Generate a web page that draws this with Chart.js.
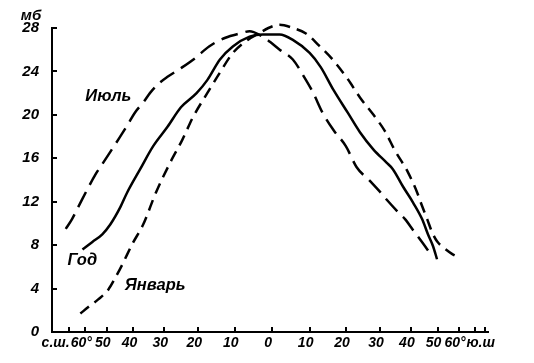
<!DOCTYPE html>
<html>
<head>
<meta charset="utf-8">
<script src="https://cdn.jsdelivr.net/npm/chart.js@4/dist/chart.umd.min.js"></script>
<style>
  html, body { margin: 0; padding: 0; background: #fff; }
  #wrap { width: 534px; height: 363px; }
</style>
</head>
<body>
<div id="wrap"><canvas id="c" width="534" height="363"></canvas></div>
<script>
// ---- Data (latitude: negative = north / с.ш., positive = south / ю.ш.; vapour pressure in мб)
const seriesNames = ['Июль', 'Год', 'Январь'];

const julyLat = [-73, -68, -63, -59, -55, -51.5, -48, -45, -42, -39.5, -36.5, -34.5, -32, -29, -25, -21, -17, -12.5, -8.5, -6, -3, -0.5, 2, 5.5, 8.5, 11, 13.5, 16.5, 20, 23, 27, 30, 32, 35.5, 38, 41, 44.5, 48];
const julyVal = [9.5, 10.4, 11.8, 13.1, 14.5, 15.6, 16.8, 17.9, 19.1, 20.2, 21.2, 22.0, 22.8, 23.5, 24.3, 25.2, 26.3, 27.1, 27.5, 27.7, 27.3, 26.7, 26.0, 25.1, 23.5, 22.0, 20.2, 18.6, 17.1, 15.2, 13.9, 12.9, 12.2, 11.1, 10.4, 9.3, 8.1, 6.9];

const yearLat = [-61.5, -56.4, -51.9, -48.6, -44.7, -42.2, -37.7, -33.5, -29, -25, -20.5, -17.5, -14, -10.5, -6, -2.5, 2, 5.5, 10, 13, 16.5, 20.5, 24, 28, 32, 34, 37.3, 40.8, 44, 46.2, 48.2, 49.8];
const yearVal = [7.6, 8.3, 9.0, 9.9, 11.5, 12.85, 15.0, 17.1, 18.9, 20.7, 22.0, 23.2, 25.1, 26.3, 27.2, 27.4, 27.4, 26.9, 25.7, 24.4, 22.3, 20.2, 18.4, 16.8, 15.6, 15.0, 13.4, 11.9, 10.4, 9.0, 7.9, 6.7];

const janLat = [-62.7, -58.4, -53.7, -49.4, -46.6, -44, -40.4, -36.7, -32.5, -28.2, -24.6, -21.5, -17.5, -14, -10.5, -6.5, -3.5, -1, 2, 5.5, 9, 12.5, 16, 20.5, 24, 28, 31.5, 34.5, 39, 42.2, 44, 45.9, 47.8, 49.8, 52.4, 56.4, 59.4];
const janVal = [1.7, 2.3, 3.0, 3.9, 5.0, 6.2, 8.1, 9.9, 12.9, 15.6, 17.7, 19.8, 22.0, 23.9, 25.7, 26.9, 27.5, 28.0, 28.3, 28.0, 27.5, 26.4, 25.2, 23.3, 21.6, 20.0, 18.5, 16.8, 14.7, 12.85, 11.6, 10.4, 9.2, 8.35, 7.8, 7.2, 6.9];

// axis ticks
const latTicks = [-80, -70, -60, -50, -40, -30, -20, -10, 0, 10, 20, 30, 40, 50, 60, 70, 80];
const latTickLabels = ['с.ш.', '', '60°', '50', '40', '30', '20', '10', '0', '10', '20', '30', '40', '50', '60°', '', 'ю.ш'];
const latTickMarks = [-70, -60, -50, -40, -30, -20, -10, 0, 10, 20, 30, 40, 50, 60, 70, 80];
const pressureTicks = [0, 4, 8, 12, 16, 20, 24, 28];
const unitLabel = 'мб';

// series label anchors (data units)
const nameLat = [-49.4, -61.6, -32.8];
const nameVal = [21.7, 6.6, 4.3];

// ---- Sine-of-latitude scale (equal-area latitude axis)
const RAD = Math.PI / 180;
class SinLatScale extends Chart.LinearScale {
  buildTicks() { return latTicks.map(v => ({ value: v })); }
  configure() {
    super.configure();
    const o = this.options;
    const a = o.sinMin !== undefined ? o.sinMin : Math.sin(this.min * RAD);
    const b = o.sinMax !== undefined ? o.sinMax : Math.sin(this.max * RAD);
    this._startValue = a;
    this._endValue = b;
    this._valueRange = b - a;
  }
  getPixelForValue(v) {
    if (v === null || v === undefined) return NaN;
    return this.getPixelForDecimal((Math.sin(v * RAD) - this._startValue) / this._valueRange);
  }
  getValueForPixel(p) {
    const s = this._startValue + this.getDecimalForPixel(p) * this._valueRange;
    return Math.asin(Math.max(-1, Math.min(1, s))) / RAD;
  }
}
SinLatScale.id = 'sinlat';
SinLatScale.defaults = Chart.LinearScale.defaults;
Chart.register(SinLatScale);

const toPts = (lat, val) => lat.map((l, i) => ({ x: l, y: val[i] }));

const FONT = '"Liberation Sans", Arial, sans-serif';

const decor = {
  id: 'decor',
  afterDraw(chart) {
    const { ctx, chartArea, scales: { x, y } } = chart;
    ctx.save();
    ctx.strokeStyle = '#000';
    ctx.lineWidth = 2;
    latTickMarks.forEach(l => {
      const px = Math.round(x.getPixelForValue(l));
      ctx.beginPath(); ctx.moveTo(px, chartArea.bottom); ctx.lineTo(px, chartArea.bottom - 5); ctx.stroke();
    });
    pressureTicks.forEach(v => {
      if (v === 0) return;
      const py = Math.round(y.getPixelForValue(v));
      ctx.beginPath(); ctx.moveTo(chartArea.left, py); ctx.lineTo(chartArea.left + 5, py); ctx.stroke();
    });
    ctx.fillStyle = '#000';
    ctx.font = 'italic bold 16.5px ' + FONT;
    ctx.textAlign = 'center';
    ctx.textBaseline = 'middle';
    seriesNames.forEach((n, i) => {
      ctx.fillText(n, x.getPixelForValue(nameLat[i]), y.getPixelForValue(nameVal[i]));
    });
    ctx.font = 'italic bold 15px ' + FONT;
    ctx.fillText(unitLabel, chartArea.left - 21, chartArea.top - 12);
    ctx.restore();
  }
};

new Chart(document.getElementById('c'), {
  type: 'line',
  data: {
    datasets: [
      { label: seriesNames[0], data: toPts(julyLat, julyVal), borderColor: '#000', borderWidth: 2.5, borderDash: [17, 8], pointRadius: 0, fill: false, clip: false, cubicInterpolationMode: 'monotone' },
      { label: seriesNames[1], data: toPts(yearLat, yearVal), borderColor: '#000', borderWidth: 2.5, pointRadius: 0, fill: false, clip: false, cubicInterpolationMode: 'monotone' },
      { label: seriesNames[2], data: toPts(janLat, janVal), borderColor: '#000', borderWidth: 2.5, borderDash: [11, 7], pointRadius: 0, fill: false, clip: false, cubicInterpolationMode: 'monotone' }
    ]
  },
  options: {
    responsive: false,
    animation: false,
    events: [],
    layout: { padding: { left: 0, right: 46, top: 28, bottom: 0 } },
    plugins: { legend: { display: false }, tooltip: { enabled: false }, title: { display: false } },
    scales: {
      x: {
        type: 'sinlat',
        min: -90,
        max: 90,
        sinMin: -1.02,
        sinMax: 1.0,
        afterFit: s => { s.height = 31; },
        grid: { display: false, drawTicks: false },
        border: { display: true, color: '#000', width: 2 },
        ticks: {
          autoSkip: false, maxRotation: 0, minRotation: 0, padding: 3, labelOffset: -4,
          color: '#000', font: { family: FONT, size: 14, style: 'italic', weight: 'bold' },
          callback: (v, i) => latTickLabels[i]
        }
      },
      y: {
        type: 'linear',
        min: 0,
        max: 28,
        afterFit: s => { s.width = 52; },
        afterBuildTicks: s => { s.ticks = pressureTicks.map(v => ({ value: v })); },
        grid: { display: false, drawTicks: false },
        border: { display: true, color: '#000', width: 2 },
        ticks: {
          padding: 13, color: '#000', font: { family: FONT, size: 15, style: 'italic', weight: 'bold' },
          callback: v => String(v)
        }
      }
    }
  },
  plugins: [decor]
});
</script>
</body>
</html>
